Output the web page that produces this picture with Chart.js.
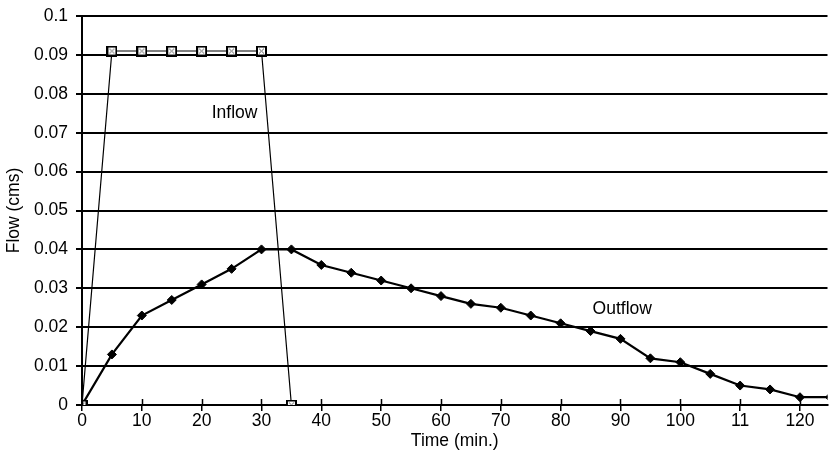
<!DOCTYPE html>
<html lang="en">
<head>
    <meta charset="UTF-8">
    <title>Inflow / Outflow</title>
    <script src="https://cdn.jsdelivr.net/npm/chart.js"></script>
    <style>
        html, body { margin: 0; padding: 0; background: #fff; }
        #wrap { width: 833px; height: 452px; }
    </style>
</head>
<body>
    <div id="wrap"><canvas id="flowChart"></canvas></div>

    <script>
        const inflowTime = [0, 5, 10, 15, 20, 25, 30, 35];
        const inflowFlow = [0, 0.091, 0.091, 0.091, 0.091, 0.091, 0.091, 0];

        const outflowTime = [0, 5, 10, 15, 20, 25, 30, 35, 40, 45, 50, 55, 60, 65, 70, 75, 80, 85, 90, 95, 100, 105, 110, 115, 120, 125];
        const outflowFlow = [0, 0.013, 0.023, 0.027, 0.031, 0.035, 0.040, 0.040, 0.036, 0.034, 0.032, 0.030, 0.028, 0.026, 0.025, 0.023, 0.021, 0.019, 0.017, 0.012, 0.011, 0.008, 0.005, 0.004, 0.002, 0.002];

        const xTicks = [0, 10, 20, 30, 40, 50, 60, 70, 80, 90, 100, 110, 120];
        const xTickLabels = ['0', '10', '20', '30', '40', '50', '60', '70', '80', '90', '100', '11', '120'];
        const yTicks = [0, 0.01, 0.02, 0.03, 0.04, 0.05, 0.06, 0.07, 0.08, 0.09, 0.1];

        const FONT = 'Liberation Sans, Arial, sans-serif';
        const FSIZE = 17.5;

        // little white square with a dotted cross, like the inflow markers
        const sq = document.createElement('canvas');
        sq.width = 11; sq.height = 11;
        const sc = sq.getContext('2d');
        sc.fillStyle = '#000';
        sc.fillRect(0, 0, 11, 11);
        sc.fillStyle = '#fff';
        sc.fillRect(2, 2, 7, 7);
        sc.fillStyle = '#666';
        [[3, 3], [7, 3], [4, 4], [6, 4], [5, 5], [4, 6], [6, 6], [3, 7], [7, 7]].forEach(p => sc.fillRect(p[0], p[1], 1, 1));

        // text labels + tick marks that cross the x axis
        const extras = {
            id: 'extras',
            afterDatasetsDraw(chart) {
                const { ctx, scales: { x, y } } = chart;
                ctx.save();
                ctx.fillStyle = '#000';
                ctx.font = FSIZE + 'px ' + FONT;
                ctx.textAlign = 'center';
                ctx.textBaseline = 'middle';
                ctx.fillText('Inflow', x.getPixelForValue(25.5), y.getPixelForValue(0.0751));
                ctx.fillText('Outflow', x.getPixelForValue(90.3), y.getPixelForValue(0.0247));

                ctx.strokeStyle = '#000';
                ctx.lineWidth = 1.5;
                const y0 = y.getPixelForValue(0);
                xTicks.forEach(v => {
                    const px = Math.round(x.getPixelForValue(v)) + 0.5;
                    ctx.beginPath();
                    ctx.moveTo(px, y0 - 6);
                    ctx.lineTo(px, y0);
                    ctx.stroke();
                });
                ctx.restore();
            }
        };

        new Chart(document.getElementById('flowChart'), {
            type: 'line',
            data: {
                datasets: [
                    {
                        label: 'Inflow',
                        data: inflowTime.map((t, i) => ({ x: t, y: inflowFlow[i] })),
                        borderColor: '#000',
                        borderWidth: 1.2,
                        pointStyle: sq,
                        tension: 0
                    },
                    {
                        label: 'Outflow',
                        data: outflowTime.map((t, i) => ({ x: t, y: outflowFlow[i] })),
                        borderColor: '#000',
                        backgroundColor: '#000',
                        borderWidth: 2.2,
                        pointStyle: 'rectRot',
                        pointRadius: 4.5,
                        pointBorderWidth: 1,
                        tension: 0
                    }
                ]
            },
            options: {
                responsive: true,
                maintainAspectRatio: false,
                animation: false,
                layout: { padding: { top: 16, right: 0, bottom: 0, left: 0 } },
                plugins: {
                    legend: { display: false },
                    tooltip: { enabled: false }
                },
                scales: {
                    x: {
                        type: 'linear',
                        min: 0,
                        max: 124.6,
                        afterBuildTicks: s => { s.ticks = xTicks.map(v => ({ value: v })); },
                        afterFit: s => { s.height = 47; },
                        ticks: {
                            color: '#000',
                            font: { family: FONT, size: FSIZE },
                            padding: 0,
                            maxRotation: 0,
                            callback: (v) => xTickLabels[xTicks.indexOf(v)]
                        },
                        grid: { display: true, drawOnChartArea: false, color: '#000', lineWidth: 1.5, tickLength: 6 },
                        border: { display: true, color: '#000', width: 2 },
                        title: {
                            display: true,
                            text: 'Time (min.)',
                            color: '#000',
                            font: { family: FONT, size: FSIZE },
                            padding: { top: 0, bottom: 0 }
                        }
                    },
                    y: {
                        min: 0,
                        max: 0.1,
                        afterBuildTicks: s => { s.ticks = yTicks.map(v => ({ value: v })); },
                        afterFit: s => { s.width = 82; s.paddingTop = 0; s.paddingBottom = 0; },
                        ticks: {
                            color: '#000',
                            font: { family: FONT, size: FSIZE },
                            padding: 8,
                            callback: v => String(+v.toFixed(2))
                        },
                        grid: { color: '#000', lineWidth: 2, tickLength: 6 },
                        border: { display: true, color: '#000', width: 2 },
                        title: {
                            display: true,
                            text: 'Flow (cms)',
                            color: '#000',
                            font: { family: FONT, size: FSIZE },
                            padding: { top: 4, bottom: 0 }
                        }
                    }
                }
            },
            plugins: [extras]
        });
    </script>
</body>
</html>
